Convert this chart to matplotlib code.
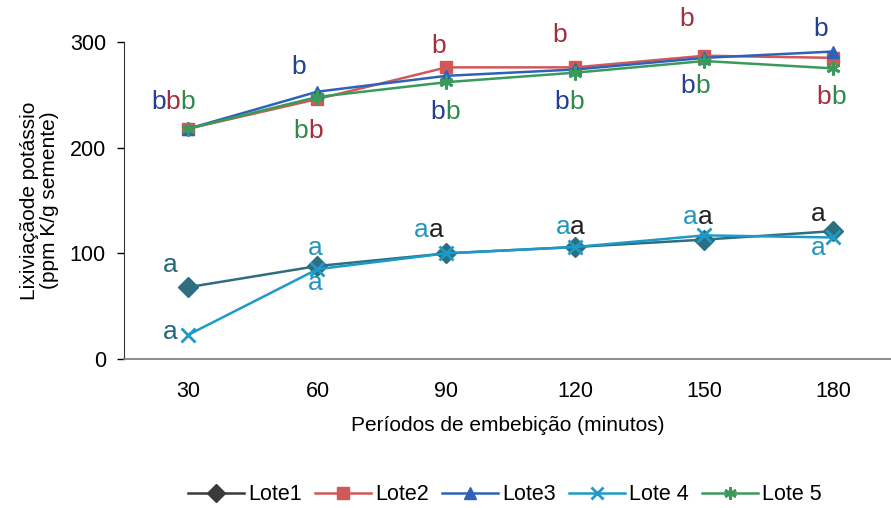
import numpy as np
import matplotlib
matplotlib.use('Agg')
import matplotlib.pyplot as plt
from matplotlib.lines import Line2D

plt.rcParams['font.family'] = ['Liberation Sans', 'DejaVu Sans']

# Dados
periodos = ['30', '60', '90', '120', '150', '180']
lote1 = [68, 88, 100, 106, 113, 121]
lote2 = [218, 246, 276, 276, 287, 285]
lote3 = [218, 253, 268, 274, 285, 291]
lote4 = [23, 85, 100, 106, 117, 115]
lote5 = [218, 248, 262, 271, 282, 275]

nomes = ['Lote1', 'Lote2', 'Lote3', 'Lote 4', 'Lote 5']
cores_linha = ['#2d6f80', '#d05858', '#2e62b8', '#1d9ac8', '#3a9a5c']
cores_legenda = ['#3a3a3a', '#d05858', '#2e62b8', '#1d9ac8', '#3a9a5c']
marcadores = ['D', 's', '^', 'x', (6, 2, 0)]

# letras de significancia (posicao x em indice, y em ppm, letras e cores)
azul, verm, verde = '#253f94', '#a3303f', '#2f8a4e'
teal, ciano, preto = '#236878', '#2396bd', '#222222'
letras = [
    (-0.12, 243, [('b', azul), ('b', verm), ('b', verde)]),
    (0.85, 276, [('b', azul)]),
    (0.93, 216, [('b', verde), ('b', verm)]),
    (1.94, 296, [('b', verm)]),
    (1.99, 234, [('b', azul), ('b', verde)]),
    (2.88, 307, [('b', verm)]),
    (2.95, 243, [('b', azul), ('b', verde)]),
    (3.86, 322, [('b', verm)]),
    (3.93, 258, [('b', azul), ('b', verde)]),
    (4.90, 312, [('b', azul)]),
    (4.98, 248, [('b', verm), ('b', verde)]),
    (-0.14, 89, [('a', teal)]),
    (-0.14, 26, [('a', teal)]),
    (0.98, 105, [('a', ciano)]),
    (0.98, 72, [('a', ciano)]),
    (1.86, 122, [('a', ciano), ('a', preto)]),
    (2.96, 125, [('a', ciano), ('a', preto)]),
    (3.95, 134, [('a', ciano), ('a', preto)]),
    (4.88, 137, [('a', preto)]),
    (4.88, 105, [('a', ciano)]),
]

fig = plt.figure(figsize=(8.91, 5.08), dpi=100)
ax = fig.add_axes([124/891, 149/508, 767/891, 317/508])

x = np.arange(len(periodos))
for serie, cor, m in zip([lote1, lote2, lote3, lote4, lote5], cores_linha, marcadores):
    ms = 9 if m == 's' else (8 if m == '^' else 10)
    ax.plot(x, serie, color=cor, marker=m, markersize=ms, linewidth=1.8,
            markeredgewidth=2 if m in ('x', (6, 2, 0)) else 1, clip_on=False)

fs = 19
w = 0.556 * fs
for xi, yi, chars in letras:
    n = len(chars)
    for i, (c, cor) in enumerate(chars):
        ax.annotate(c, (xi, yi), xytext=((i - (n - 1) / 2) * w, 0), textcoords='offset points',
                    ha='center', va='center', fontsize=fs, color=cor, annotation_clip=False)

ax.set_xlim(-0.5, 5.446)
ax.set_ylim(0, 300)
ax.set_yticks([0, 100, 200, 300])
ax.set_xticks(x)
ax.set_xticklabels(periodos)
ax.tick_params(axis='x', length=0, pad=16, labelsize=15.5)
ax.tick_params(axis='y', length=5, width=1, pad=8, labelsize=15.5, direction='out')
ax.spines['top'].set_visible(False)
ax.spines['right'].set_visible(False)
ax.spines['left'].set_color('#333333')
ax.spines['bottom'].set_color('#777777')
ax.spines['bottom'].set_linewidth(1.2)

ax.set_xlabel('Períodos de embebição (minutos)', fontsize=15, labelpad=10)
ax.set_ylabel('Lixiviaçãode potássio\n(ppm K/g semente)', fontsize=15, labelpad=8,
              linespacing=1.05)

handles = [Line2D([], [], color=c, marker=m, markersize=9, linewidth=1.8,
                  markeredgewidth=2 if m in ('x', (6, 2, 0)) else 1)
           for c, m in zip(cores_legenda, marcadores)]
fig.legend(handles, nomes, loc='center', bbox_to_anchor=(505/891, 1 - 495/508), ncol=5,
           frameon=False, fontsize=15.5, handlelength=2.6, columnspacing=0.6, handletextpad=0.2)

plt.savefig('out.png', dpi=100)
